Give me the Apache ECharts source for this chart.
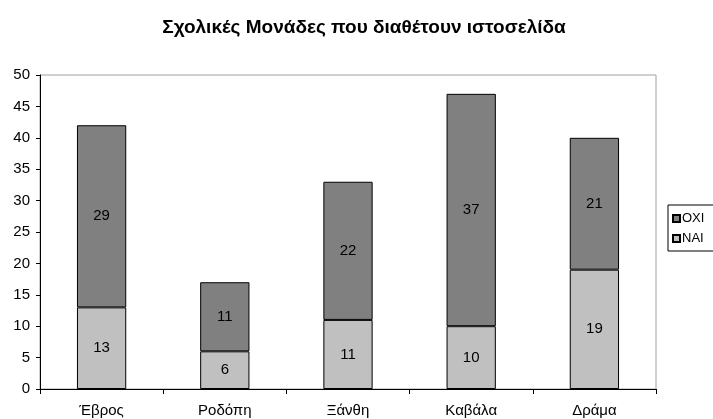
<!DOCTYPE html>
<html><head><meta charset="utf-8">
<script src="https://cdn.jsdelivr.net/npm/echarts@6/dist/echarts.min.js"></script>
<style>html,body{margin:0;padding:0;background:#fff}#c{width:713px;height:419px}</style>
</head><body><div id="c"></div>
<script>
const categories = ['Έβρος','Ροδόπη','Ξάνθη','Καβάλα','Δράμα'];
const nai = [13, 6, 11, 10, 19];
const oxi = [29, 11, 22, 37, 21];
const yTicks = [0,5,10,15,20,25,30,35,40,45,50];

const chart = echarts.init(document.getElementById('c'));
const font = 'Liberation Sans, Arial, sans-serif';
chart.setOption({
  animation: false,
  title: {text: 'Σχολικές Μονάδες που διαθέτουν ιστοσελίδα', left: 359, textAlign: 'center', top: 13,
    textStyle: {fontFamily: font, fontSize: 19, fontWeight: 'bold', color: '#000'}},
  grid: {left: 40, right: 57, top: 75, bottom: 30, show: true, borderColor: '#a0a0a0', borderWidth: 1},
  legend: {orient: 'vertical', left: 668, top: 205, data: ['ΟΧΙ','ΝΑΙ'], icon: 'rect',
    itemWidth: 7, itemHeight: 7, itemGap: 7, borderColor: '#000', borderWidth: 1, padding: [7, 20, 6, 4],
    textStyle: {fontFamily: font, fontSize: 13, color: '#000', padding: [0,0,0,-3]}},
  xAxis: {type: 'category', data: categories,
    axisLine: {lineStyle: {color: '#000'}},
    axisTick: {show: true, length: 5, alignWithLabel: false, lineStyle: {color: '#000'}},
    axisLabel: {fontFamily: font, fontSize: 15, color: '#000', margin: 14}},
  yAxis: {type: 'value', min: 0, max: 50, interval: 5,
    axisLine: {show: true, lineStyle: {color: '#000'}},
    axisTick: {show: true, length: 4, lineStyle: {color: '#000'}},
    splitLine: {show: false},
    axisLabel: {fontFamily: font, fontSize: 15, color: '#000', margin: 10,
      formatter: v => yTicks.includes(v) ? String(v) : ''}},
  series: [
    {name: 'ΝΑΙ', type: 'bar', stack: 's', data: nai, barWidth: '40%',
      itemStyle: {color: '#c0c0c0', borderColor: '#000', borderWidth: 1},
      label: {show: true, position: 'inside', fontFamily: font, fontSize: 15, color: '#000'}},
    {name: 'ΟΧΙ', type: 'bar', stack: 's', data: oxi, barWidth: '40%',
      itemStyle: {color: '#808080', borderColor: '#000', borderWidth: 1},
      label: {show: true, position: 'inside', fontFamily: font, fontSize: 15, color: '#000'}}
  ]
});
</script></body></html>
